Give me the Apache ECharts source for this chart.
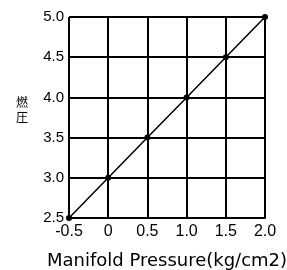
<!DOCTYPE html>
<html><head><meta charset="utf-8">
<script src="https://cdn.jsdelivr.net/npm/echarts@6/dist/echarts.min.js"></script>
<style>html,body{margin:0;padding:0;background:#fff}#c{width:287px;height:270px}</style>
</head><body><div id="c"></div>
<script>
const xValues = [-0.5, 0, 0.5, 1.0, 1.5, 2.0];
const yValues = [2.5, 3.0, 3.5, 4.0, 4.5, 5.0];
const xTickLabels = ['-0.5', '0', '0.5', '1.0', '1.5', '2.0'];
const yTickLabels = ['2.5', '3.0', '3.5', '4.0', '4.5', '5.0'];
const xTitle = 'Manifold Pressure(kg/cm2)';
const yTitle = '燃圧';

const chart = echarts.init(document.getElementById('c'), null, {renderer: 'canvas'});
const fmt = (labels, vals) => v => { const i = vals.findIndex(t => Math.abs(t - v) < 1e-9); return i >= 0 ? labels[i] : ''; };
chart.setOption({
  animation: false,
  grid: {left: 69, right: 22, top: 17, bottom: 52, containLabel: false, outerBoundsMode: 'none'},
  xAxis: {
    type: 'value', min: -0.5, max: 2.0, interval: 0.5,
    name: xTitle, nameLocation: 'middle', nameGap: 34,
    nameTextStyle: {fontFamily: 'DejaVu Sans', fontSize: 18, color: '#000'},
    axisLine: {show: true, lineStyle: {color: '#000', width: 2}},
    axisTick: {show: false},
    axisLabel: {formatter: fmt(xTickLabels, xValues), fontFamily: 'Liberation Sans', fontSize: 16, color: '#000', margin: 6},
    splitLine: {show: true, lineStyle: {color: '#000', width: 2}}
  },
  yAxis: {
    type: 'value', min: 2.5, max: 5.0, interval: 0.5,
    name: yTitle.split('').join('\n') + '\n ', nameLocation: 'middle', nameGap: 41, nameRotate: 0,
    nameTextStyle: {fontFamily: 'Noto Sans CJK JP', fontSize: 12, color: '#000', lineHeight: 15},
    axisLine: {show: true, lineStyle: {color: '#000', width: 2}},
    axisTick: {show: false},
    axisLabel: {formatter: fmt(yTickLabels, yValues), fontFamily: 'Liberation Sans', fontSize: 15, color: '#000', margin: 5},
    splitLine: {show: true, lineStyle: {color: '#000', width: 2}}
  },
  series: [{
    type: 'line',
    data: xValues.map((x, i) => [x, yValues[i]]),
    symbol: 'circle', symbolSize: 6,
    lineStyle: {color: '#000', width: 1.5},
    itemStyle: {color: '#000'},
    clip: false
  }]
});
</script></body></html>
